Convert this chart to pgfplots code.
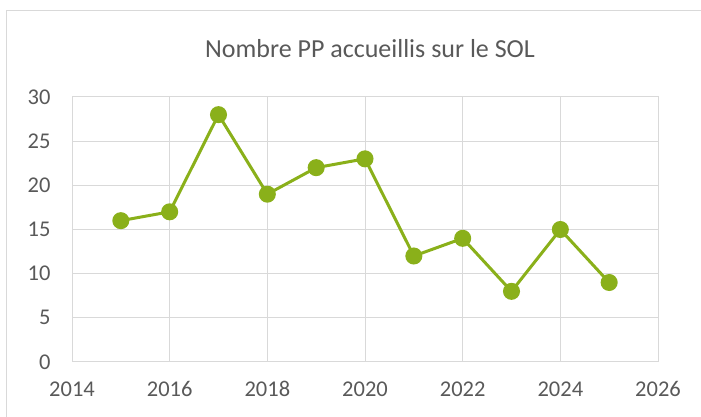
\documentclass[border=0pt]{standalone}
\usepackage{pgfplots}
\pgfplotsset{compat=1.18}
\usepackage{fontspec}
\setmainfont{Carlito}
\definecolor{linegreen}{RGB}{138,176,26}
\definecolor{gridgray}{RGB}{217,217,217}
\definecolor{txtgray}{RGB}{89,89,89}
\begin{document}
\begin{tikzpicture}[x=1pt,y=1pt]
\path[use as bounding box] (0,0) rectangle (701,417);
\draw[gridgray, line width=1pt] (6,-20) -- (6,406) -- (720,406);
\node[txtgray, font=\fontsize{26}{30}\selectfont] at (370,368) {Nombre PP accueillis sur le SOL};
\begin{axis}[
  at={(72pt,55pt)}, anchor=south west,
  width=586pt, height=265pt, scale only axis,
  xmin=2014, xmax=2026, ymin=0, ymax=30,
  xtick={2014,2016,...,2026}, ytick={0,5,...,30},
  xticklabel style={/pgf/number format/1000 sep={}},
  /pgf/number format/assume math mode=true,
  tick label style={font=\fontsize{22.5}{26}\selectfont, text=txtgray},
  xticklabel style={yshift=-16pt},
  yticklabel style={xshift=-18pt},
  major tick length=0pt,
  grid=major, grid style={gridgray, line width=1pt},
  axis line style={gridgray, line width=1pt},
  clip=false,
]
\addplot[linegreen, line width=3pt, mark=*, mark size=7pt, mark options={fill=linegreen, draw=linegreen}] coordinates {
(2015,16) (2016,17) (2017,28) (2018,19) (2019,22) (2020,23) (2021,12) (2022,14) (2023,8) (2024,15) (2025,9)
};
\end{axis}
\end{tikzpicture}
\end{document}
